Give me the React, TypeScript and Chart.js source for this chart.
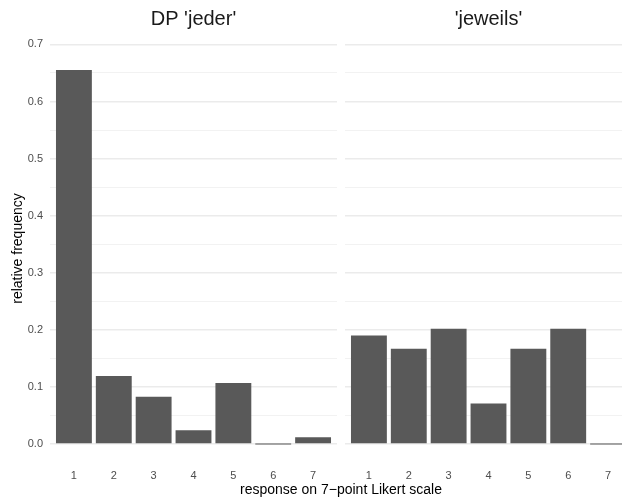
import React, { useEffect, useRef } from "react";
import { Chart, registerables } from "chart.js";

Chart.register(...registerables);

// ---- data ----
const categories = [1, 2, 3, 4, 5, 6, 7];
const categoryLabels = ["1", "2", "3", "4", "5", "6", "7"];
const jederValues = [0.655, 0.119, 0.083, 0.024, 0.107, 0, 0.012];
const jeweilsValues = [0.19, 0.167, 0.202, 0.071, 0.167, 0.202, 0];
const panelTitles = ["DP 'jeder'", "'jeweils'"];
const yGridValues = [0, 0.05, 0.1, 0.15, 0.2, 0.25, 0.3, 0.35, 0.4, 0.45, 0.5, 0.55, 0.6, 0.65, 0.7];
const yTickLabels = ["0.0", "", "0.1", "", "0.2", "", "0.3", "", "0.4", "", "0.5", "", "0.6", "", "0.7"];
const xAxisTitle = "response on 7\u2212point Likert scale";
const yAxisTitle = "relative frequency";

const FONT = "'Liberation Sans', Arial, Helvetica, sans-serif";
const BAR_COLOR = "#595959";

function makePanel(
  canvas: HTMLCanvasElement,
  values: number[],
  title: string,
  showYAxis: boolean,
  padRight: number
) {
  return new Chart(canvas, {
    type: "bar",
    data: {
      datasets: [
        {
          data: categories.map((c, i) => ({ x: c, y: values[i] })),
          backgroundColor: BAR_COLOR,
          borderWidth: 0,
          categoryPercentage: 1,
          barPercentage: 0.9,
          minBarLength: 1,
        },
      ],
    },
    options: {
      responsive: false,
      animation: false,
      layout: { padding: { left: 0, right: padRight, top: 0, bottom: 0 } },
      plugins: {
        legend: { display: false },
        tooltip: { enabled: false },
        title: {
          display: true,
          text: title,
          fullSize: false,
          color: "#1a1a1a",
          font: { family: FONT, size: 20, weight: "normal" },
          padding: { top: 7.5, bottom: 1.5 },
        },
      },
      scales: {
        x: {
          type: "linear",
          offset: false,
          min: 0.4,
          max: 7.6,
          afterBuildTicks: (scale: any) => {
            scale.ticks = categories.map((v) => ({ value: v }));
          },
          afterFit: (scale: any) => {
            scale.height = 34;
          },
          grid: { display: false, drawTicks: false, offset: false },
          border: { display: false },
          ticks: {
            color: "#4d4d4d",
            font: { family: FONT, size: 11 },
            padding: 5,
            maxRotation: 0,
            autoSkip: false,
            callback: (v: any) => {
              const i = categories.indexOf(Number(v));
              return i >= 0 ? categoryLabels[i] : "";
            },
          },
        },
        y: {
          type: "linear",
          min: -0.035,
          max: 0.72,
          afterBuildTicks: (scale: any) => {
            scale.ticks = yGridValues.map((v) => ({ value: v }));
          },
          afterFit: (scale: any) => {
            scale.width = showYAxis ? 50 : 0;
          },
          border: { display: false },
          grid: {
            drawTicks: false,
            color: (ctx: any) => (ctx.index % 2 === 0 ? "#ebebeb" : "#f2f2f2"),
            lineWidth: (ctx: any) => (ctx.index % 2 === 0 ? 1.4 : 1),
          },
          ticks: {
            display: showYAxis,
            color: "#4d4d4d",
            font: { family: FONT, size: 11 },
            padding: 7,
            autoSkip: false,
            callback: (_v: any, index: number) => yTickLabels[index] ?? "",
          },
          title: {
            display: showYAxis,
            text: yAxisTitle,
            color: "#000000",
            font: { family: FONT, size: 14 },
            padding: { top: 10, bottom: 0 },
          },
        },
      },
    } as any,
  });
}

export default function App() {
  const leftRef = useRef<HTMLCanvasElement>(null);
  const rightRef = useRef<HTMLCanvasElement>(null);

  useEffect(() => {
    const left = makePanel(leftRef.current!, jederValues, panelTitles[0], true, 3);
    const right = makePanel(rightRef.current!, jeweilsValues, panelTitles[1], false, 13);
    return () => {
      left.destroy();
      right.destroy();
    };
  }, []);

  return (
    <div
      style={{
        position: "fixed",
        left: 0,
        top: 0,
        width: 622,
        height: 498,
        overflow: "hidden",
        background: "#ffffff",
      }}
    >
      <canvas
        ref={leftRef}
        width={340}
        height={498}
        style={{ position: "absolute", left: 0, top: 0, width: 340, height: 498 }}
      />
      <canvas
        ref={rightRef}
        width={300}
        height={498}
        style={{ position: "absolute", left: 345, top: 0, width: 300, height: 498 }}
      />
      <div
        style={{
          position: "absolute",
          left: 0,
          top: 481,
          width: 682,
          textAlign: "center",
          fontFamily: FONT,
          fontSize: 14,
          lineHeight: "16px",
          color: "#000000",
          whiteSpace: "nowrap",
        }}
      >
        {xAxisTitle}
      </div>
    </div>
  );
}
